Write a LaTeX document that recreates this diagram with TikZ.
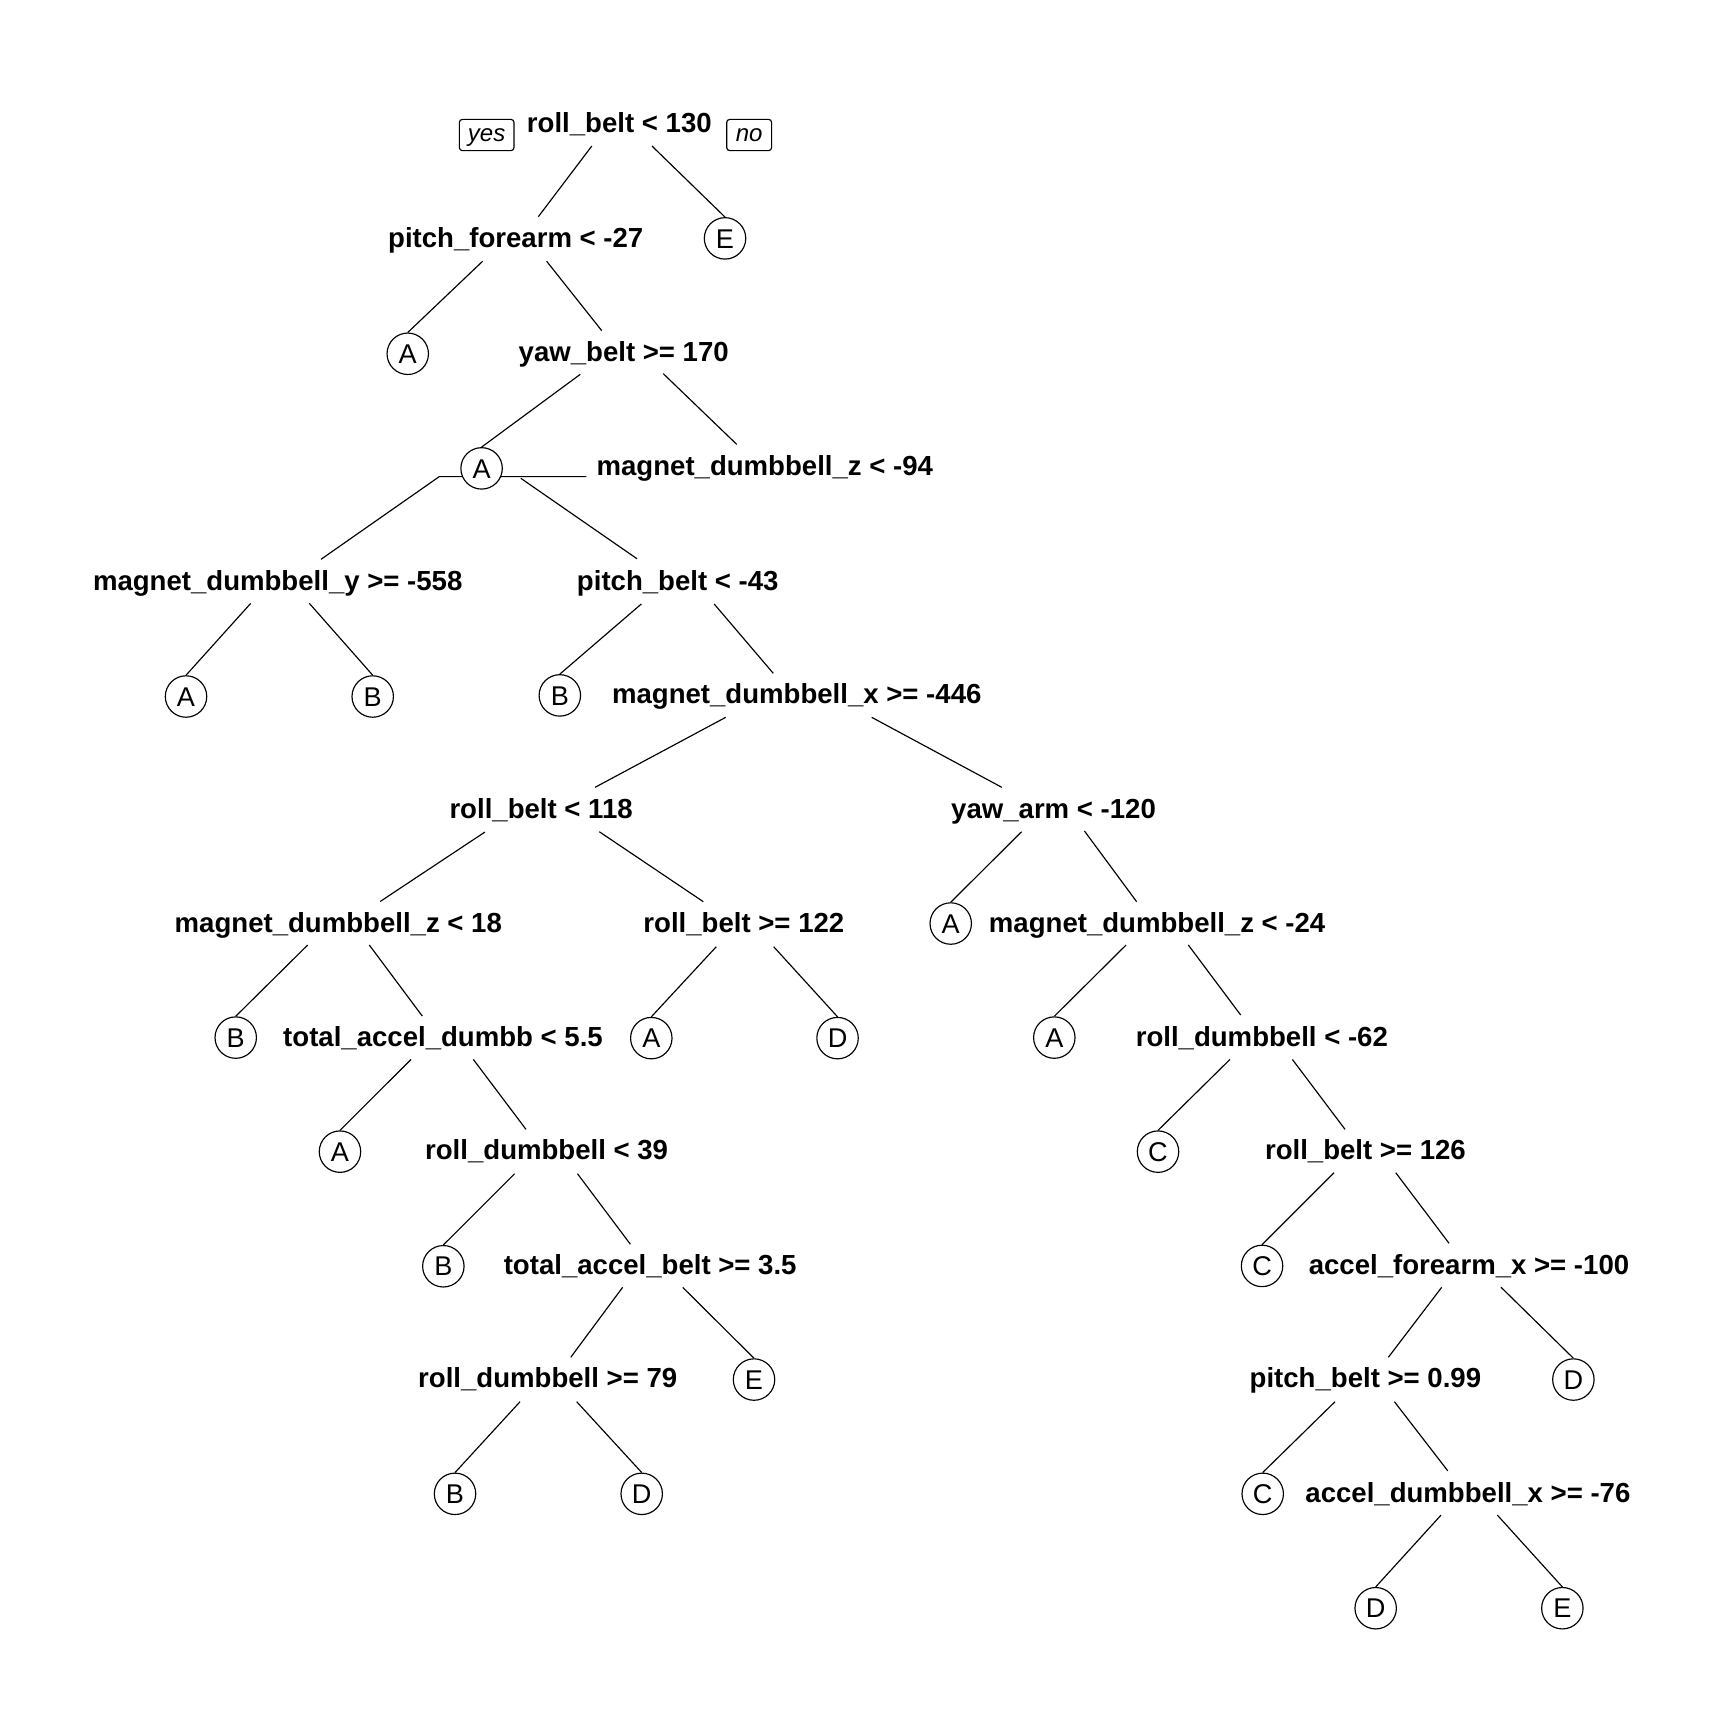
\documentclass[tikz,border=0pt]{standalone}
\usepackage{fontspec}
\setmainfont{Liberation Sans}
\usetikzlibrary{calc}
\pgfdeclarelayer{edges}
\pgfsetlayers{edges,main}
\begin{document}
\begin{tikzpicture}[x=0.1mm,y=-0.1mm,
  split/.style={inner sep=0pt, font=\fontsize{7.12}{8}\selectfont\bfseries,
                text height=1.8mm, text depth=0.12mm},
  leaf/.style={circle, draw, fill=white, line width=0.3pt, minimum size=3.76mm,
               inner sep=0pt, font=\fontsize{7}{8}\selectfont,
               text height=1.76mm, text depth=0mm},
  tag/.style={draw, rounded corners=0.8pt, line width=0.3pt, minimum height=2.84mm,
              inner sep=0pt, font=\fontsize{6.2}{7}\selectfont\itshape,
              text height=1.1mm, text depth=0mm},
  branch/.style={line width=0.3pt}]
\begin{pgfonlayer}{edges}
\fill[white] (0,0) rectangle (1568,1568);
\end{pgfonlayer}
\useasboundingbox (0,0) rectangle (1568,1568);

% split labels
\node[split] (s1)  at (562,112)  {roll\_belt < 130};
\node[split] (s2)  at (468,216)  {pitch\_forearm < -27};
\node[split] (s3)  at (566,320)  {yaw\_belt >= 170};
\node[split] (s4)  at (694,423)  {magnet\_dumbbell\_z < -94};
\node[split] (s5)  at (252,527)  {magnet\_dumbbell\_y >= -558};
\node[split] (s6)  at (615,527)  {pitch\_belt < -43};
\node[split] (s7)  at (723,630)  {magnet\_dumbbell\_x >= -446};
\node[split] (s8)  at (491,734)  {roll\_belt < 118};
\node[split] (s9)  at (956,734)  {yaw\_arm < -120};
\node[split] (s10) at (307,838)  {magnet\_dumbbell\_z < 18};
\node[split] (s11) at (675,838)  {roll\_belt >= 122};
\node[split] (s12) at (1050,838) {magnet\_dumbbell\_z < -24};
\node[split] (s13) at (402,941)  {total\_accel\_dumbb < 5.5};
\node[split] (s14) at (1145,941) {roll\_dumbbell < -62};
\node[split] (s15) at (496,1044) {roll\_dumbbell < 39};
\node[split] (s16) at (1239,1044) {roll\_belt >= 126};
\node[split] (s17) at (590,1148) {total\_accel\_belt >= 3.5};
\node[split] (s18) at (1333,1148) {accel\_forearm\_x >= -100};
\node[split] (s19) at (497,1251) {roll\_dumbbell >= 79};
\node[split] (s20) at (1239,1251) {pitch\_belt >= 0.99};
\node[split] (s21) at (1332,1355) {accel\_dumbbell\_x >= -76};

% yes / no tags
\node[tag, minimum width=4.96mm] (yes) at (441.6,122.5) {yes};
\node[tag, minimum width=4.08mm] (no)  at (679.8,122.5) {no};

% leaves
\node[leaf] (lE1) at (657.9,216.3) {E};
\node[leaf] (lA1) at (370,321)     {A};
\node[leaf] (lA2) at (437,425)     {A};
\node[leaf] (lA3) at (168.8,632)   {A};
\node[leaf] (lB1) at (338.2,632)   {B};
\node[leaf] (lB2) at (508,631)     {B};
\node[leaf] (lA4) at (862.7,838)   {A};
\node[leaf] (lB3) at (213.9,941.5) {B};
\node[leaf] (lA5) at (591,942)     {A};
\node[leaf] (lD1) at (760,942)     {D};
\node[leaf] (lA6) at (956.7,941.5) {A};
\node[leaf] (lA7) at (308.5,1045)  {A};
\node[leaf] (lC1) at (1050.8,1045) {C};
\node[leaf] (lB4) at (402.3,1149)  {B};
\node[leaf] (lC2) at (1145.2,1148.7) {C};
\node[leaf] (lE2) at (684.2,1251.8) {E};
\node[leaf] (lD2) at (1427.7,1251.8) {D};
\node[leaf] (lB5) at (412.9,1355.5) {B};
\node[leaf] (lD3) at (582.3,1355.5) {D};
\node[leaf] (lC3) at (1145.8,1355.5) {C};
\node[leaf] (lD4) at (1248.3,1459.3) {D};
\node[leaf] (lE3) at (1417.7,1459.3) {E};

% branches, kept beneath the leaf circles
\begin{pgfonlayer}{edges}
\draw[branch] ($(s1)+(-25,20.5)$) -- ($(s2)+(20.5,-19.4)$);
\draw[branch] ($(s1)+(29.6,20.5)$) -- (lE1.north);
\draw[branch] ($(s2)+(-30,21)$) -- (lA1.north);
\draw[branch] ($(s2)+(28,21)$) -- ($(s3)+(-20,-20)$);
\draw[branch] ($(s3)+(-39.5,19.7)$) -- (lA2.north);
\draw[branch] ($(s3)+(35.8,19)$) -- ($(s4)+(-25.5,-19.8)$);
\draw[branch] ($(s4)+(-162,9.5)$) -- ($(s4)+(-295.4,9.5)$) -- ($(s5)+(39.3,-19.5)$);
\draw[branch] ($(s4)+(-221.4,11)$) -- ($(s6)+(-37,-20)$);
\draw[branch] ($(s5)+(-24.5,20.5)$) -- (lA3.north);
\draw[branch] ($(s5)+(28.7,20.5)$) -- (lB1.north);
\draw[branch] ($(s6)+(-33,21)$) -- (lB2.north);
\draw[branch] ($(s6)+(33,21)$) -- ($(s7)+(-21.3,-19)$);
\draw[branch] ($(s7)+(-64.5,20.9)$) -- ($(s8)+(49,-19.6)$);
\draw[branch] ($(s7)+(68,20.9)$) -- ($(s9)+(-47,-19.6)$);
\draw[branch] ($(s8)+(-51,21)$) -- ($(s10)+(38,-20)$);
\draw[branch] ($(s8)+(52.8,20.7)$) -- ($(s11)+(-36.8,-19.8)$);
\draw[branch] ($(s9)+(-29,20.7)$) -- (lA4.north);
\draw[branch] ($(s9)+(28,20)$) -- ($(s12)+(-18.6,-19.8)$);
\draw[branch] ($(s10)+(-27.8,19.5)$) -- (lB3.north);
\draw[branch] ($(s10)+(28.1,19.5)$) -- ($(s13)+(-18.8,-19)$);
\draw[branch] ($(s11)+(-25,21)$) -- (lA5.north);
\draw[branch] ($(s11)+(27,21)$) -- (lD1.north);
\draw[branch] ($(s12)+(-28.2,19.5)$) -- (lA6.north);
\draw[branch] ($(s12)+(28.3,19.5)$) -- ($(s14)+(-19.2,-20)$);
\draw[branch] ($(s13)+(-29,20.3)$) -- (lA7.north);
\draw[branch] ($(s13)+(27.5,20.3)$) -- ($(s15)+(-18.7,-19.2)$);
\draw[branch] ($(s14)+(-28.9,20.3)$) -- (lC1.north);
\draw[branch] ($(s14)+(27.7,20.3)$) -- ($(s16)+(-18.5,-19.2)$);
\draw[branch] ($(s15)+(-29,21)$) -- (lB4.north);
\draw[branch] ($(s15)+(28,21)$) -- ($(s17)+(-18,-19)$);
\draw[branch] ($(s16)+(-28.5,20.1)$) -- (lC2.north);
\draw[branch] ($(s16)+(27.5,20.1)$) -- ($(s18)+(-18.1,-19.8)$);
\draw[branch] ($(s17)+(-25,20.1)$) -- ($(s19)+(20.9,-19.4)$);
\draw[branch] ($(s17)+(29.5,20.1)$) -- (lE2.north);
\draw[branch] ($(s18)+(-24.8,20.1)$) -- ($(s20)+(20.8,-19.4)$);
\draw[branch] ($(s18)+(29,20)$) -- (lD2.north);
\draw[branch] ($(s19)+(-25.1,20.9)$) -- (lB5.north);
\draw[branch] ($(s19)+(26.3,20.9)$) -- (lD3.north);
\draw[branch] ($(s20)+(-27.6,20.9)$) -- (lC3.north);
\draw[branch] ($(s20)+(26.3,20.9)$) -- ($(s21)+(-18.3,-20.4)$);
\draw[branch] ($(s21)+(-24.4,19.8)$) -- (lD4.north);
\draw[branch] ($(s21)+(26.7,19.8)$) -- (lE3.north);
\end{pgfonlayer}
\end{tikzpicture}
\end{document}
